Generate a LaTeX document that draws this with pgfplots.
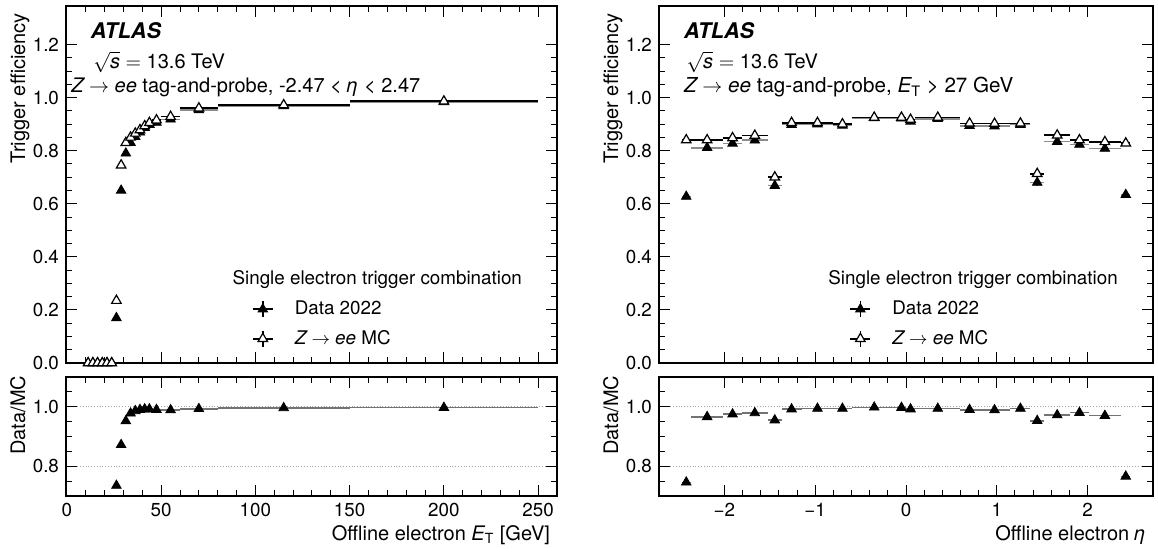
\documentclass[border=0pt]{standalone}
\usepackage{fontspec}
\setmainfont{TeX Gyre Heros}
\usepackage{pgfplots}
\pgfplotsset{compat=1.18}
\usepackage{pgfplotstable}

\pgfplotstableread{
x     xe    data   ye     mc
11.25 1.25  0.000  0.002  0.000
13.75 1.25  0.000  0.002  0.000
16.25 1.25  0.000  0.002  0.000
18.75 1.25  0.000  0.002  0.000
21.25 1.25  0.000  0.002  0.000
23.75 1.25  0.000  0.002  0.000
26.25 1.25  0.170  0.004  0.235
28.75 1.25  0.650  0.004  0.745
31.25 1.25  0.790  0.003  0.830
33.75 1.25  0.830  0.003  0.850
36.25 1.25  0.852  0.003  0.865
38.75 1.25  0.869  0.003  0.878
41.25 1.25  0.886  0.003  0.893
43.75 1.25  0.898  0.003  0.905
47.5  2.5   0.906  0.003  0.915
55    5     0.918  0.003  0.928
70    10    0.953  0.003  0.960
115   35    0.968  0.003  0.972
200   50    0.983  0.003  0.986
}\etTop

\pgfplotstableread{
x     xe    r
26.25 1.25  0.735
28.75 1.25  0.872
31.25 1.25  0.952
33.75 1.25  0.978
36.25 1.25  0.986
38.75 1.25  0.990
41.25 1.25  0.992
43.75 1.25  0.992
47.5  2.5   0.990
55    5     0.989
70    10    0.993
115   35    0.996
200   50    0.997
}\etRatio

\pgfplotstableread{
x      xe     data   ye     mc
-2.42  0.05   0.627  0.005  0.840
-2.19  0.18   0.811  0.004  0.840
-1.91  0.10   0.827  0.004  0.848
-1.665 0.145  0.839  0.004  0.857
-1.445 0.075  0.668  0.012  0.700
-1.26  0.11   0.898  0.003  0.905
-0.975 0.175  0.900  0.003  0.905
-0.7   0.10   0.895  0.003  0.900
-0.35  0.25   0.923  0.003  0.925
-0.05  0.05   0.922  0.003  0.925
0.05   0.05   0.910  0.003  0.917
0.35   0.25   0.920  0.003  0.925
0.7    0.10   0.894  0.003  0.903
0.975  0.175  0.892  0.003  0.902
1.26   0.11   0.898  0.003  0.903
1.445  0.075  0.680  0.012  0.713
1.665  0.145  0.834  0.004  0.858
1.91   0.10   0.823  0.004  0.840
2.19   0.18   0.808  0.004  0.833
2.42   0.05   0.634  0.005  0.828
}\etaTop

\pgfplotstableread{
x      xe     r
-2.42  0.05   0.746
-2.19  0.18   0.966
-1.91  0.10   0.975
-1.665 0.145  0.979
-1.445 0.075  0.955
-1.26  0.11   0.992
-0.975 0.175  0.994
-0.7   0.10   0.994
-0.35  0.25   0.998
-0.05  0.05   0.997
0.05   0.05   0.992
0.35   0.25   0.994
0.7    0.10   0.990
0.975  0.175  0.989
1.26   0.11   0.994
1.445  0.075  0.953
1.665  0.145  0.972
1.91   0.10   0.980
2.19   0.18   0.970
2.42   0.05   0.766
}\etaRatio

\newcommand{\lfont}{\fontsize{9.4}{11}\selectfont}
\newcommand{\afont}{\fontsize{10}{12}\selectfont}
\newcommand{\tfont}{\fontsize{10}{12}\selectfont}

\pgfplotsset{
  atlas/.style={
    scale only axis,
    axis line style={line width=0.6pt},
    every tick/.style={line width=0.5pt, black},
    major tick length=5.5pt,
    minor tick length=3pt,
    tick align=inside,
    tick pos=both,
    tick label style={font=\lfont},
    label style={font=\afont},
    every axis y label/.style={at={(axis description cs:-0.0835,1)}, rotate=90, anchor=base east, font=\afont},
    every axis x label/.style={at={(axis description cs:1,-0.37)}, anchor=base east, font=\afont},
  },
  legimg/.style={
    legend image code/.code={
      \path[draw=none, fill=none] (0pt,-4pt) rectangle (21pt,4pt);
      \draw[line width=0.8pt, black, fill=none] (0pt,0pt) -- (10pt,0pt) (5pt,-4pt) -- (5pt,4pt);
      \draw[mark repeat=2, mark phase=2, ##1] plot coordinates {(0pt,0pt) (5pt,0pt) (10pt,0pt)};
    },
  },
  datastyle/.style={only marks, mark=triangle*, mark size=2.75pt, black,
    mark options={fill=black, line width=0.4pt}, legimg,
    error bars/.cd, x dir=both, x explicit, y dir=both, y explicit,
    error bar style={line width=0.8pt, black!45}, error mark=none},
  mcstyle/.style={only marks, mark=triangle*, mark size=2.75pt, black,
    mark options={fill=white, line width=0.6pt}, legimg,
    error bars/.cd, x dir=both, x explicit,
    error bar style={line width=0.8pt, black}, error mark=none},
  ratiostyle/.style={only marks, mark=triangle*, mark size=2.75pt, black,
    mark options={fill=black, line width=0.4pt},
    error bars/.cd, x dir=both, x explicit,
    error bar style={line width=0.8pt, black!55}, error mark=none},
  legstyle/.style={legend style={at={(axis description cs:#1,0.1765)}, anchor=north west,
    draw=none, fill=none, inner sep=0pt, row sep=6pt, font=\lfont,
    nodes={inner sep=0pt}}, legend cell align=left},
}

\begin{document}
\begin{tikzpicture}[font=\lfont]
\useasboundingbox (0,0) rectangle (579pt,-274.5pt);

% ---------------- left top ----------------
\begin{axis}[atlas, name=lt, at={(33pt,-3pt)}, anchor=north west,
  width=245.5pt, height=178.5pt,
  xmin=-0.5, xmax=260, ymin=0, ymax=1.345,
  xtick={0,50,100,150,200,250}, xticklabels={},
  minor x tick num=4,
  ytick={0,0.2,0.4,0.6,0.8,1.0,1.2}, yticklabels={0.0,0.2,0.4,0.6,0.8,1.0,1.2},
  minor y tick num=3,
  ylabel={Trigger efficiency},
  legstyle=0.378]
\addplot[datastyle] table[x=x, y=data, x error=xe, y error=ye] {\etTop};
\addlegendentry{Data 2022}
\addplot[mcstyle] table[x=x, y=mc, x error=xe] {\etTop};
\addlegendentry{{\itshape Z} $\rightarrow$ {\itshape ee} MC}
\node[anchor=west, inner sep=0pt, font=\fontsize{10.8}{12}\selectfont\bfseries\itshape] at (axis description cs:0.050,0.931) {ATLAS};
\node[anchor=west, inner sep=0pt, font=\tfont] at (axis description cs:0.055,0.843) {$\sqrt{\mbox{\itshape s}} = \mbox{13.6 TeV}$};
\node[anchor=west, inner sep=0pt, font=\tfont] at (axis description cs:0.010,0.772) {{\itshape Z} $\rightarrow$ {\itshape ee} tag-and-probe, -2.47 < {\itshape η} < 2.47};
\node[anchor=east] at (axis description cs:0.943,0.2325) {Single electron trigger combination};
\end{axis}

% ---------------- left ratio ----------------
\begin{axis}[atlas, name=lr, at={(33pt,-188.5pt)}, anchor=north west,
  width=245.5pt, height=59.5pt,
  xmin=-0.5, xmax=260, ymin=0.7, ymax=1.1,
  xtick={0,50,100,150,200,250}, xticklabels={0,50,100,150,200,250},
  minor x tick num=4,
  ytick={0.8,1.0}, yticklabels={0.8,1.0},
  minor ytick={0.7,0.75,0.85,0.9,0.95,1.05,1.1},
  ymajorgrids, grid style={densely dotted, black!35, line width=0.5pt},
  every axis y label/.style={at={(axis description cs:-0.0835,1.07)}, rotate=90, anchor=base east, font=\afont},
  ylabel={Data/MC},
  xlabel={Offline electron {\itshape E}\textsubscript{T} [GeV]}]
\addplot[ratiostyle] table[x=x, y=r, x error=xe] {\etRatio};
\end{axis}

% ---------------- right top ----------------
\begin{axis}[atlas, name=rt, at={(329.5pt,-3pt)}, anchor=north west,
  width=247pt, height=178.5pt,
  xmin=-2.72, xmax=2.72, ymin=0, ymax=1.345,
  xtick={-2,-1,0,1,2}, xticklabels={},
  minor x tick num=4,
  ytick={0,0.2,0.4,0.6,0.8,1.0,1.2}, yticklabels={0.0,0.2,0.4,0.6,0.8,1.0,1.2},
  minor y tick num=3,
  every axis y label/.style={at={(axis description cs:-0.083,1)}, rotate=90, anchor=base east, font=\afont},
  ylabel={Trigger efficiency},
  legstyle=0.385]
\addplot[datastyle] table[x=x, y=data, x error=xe, y error=ye] {\etaTop};
\addlegendentry{Data 2022}
\addplot[mcstyle] table[x=x, y=mc, x error=xe] {\etaTop};
\addlegendentry{{\itshape Z} $\rightarrow$ {\itshape ee} MC}
\node[anchor=west, inner sep=0pt, font=\fontsize{10.8}{12}\selectfont\bfseries\itshape] at (axis description cs:0.050,0.931) {ATLAS};
\node[anchor=west, inner sep=0pt, font=\tfont] at (axis description cs:0.055,0.843) {$\sqrt{\mbox{\itshape s}} = \mbox{13.6 TeV}$};
\node[anchor=west, inner sep=0pt, font=\fontsize{10.3}{12}\selectfont] at (axis description cs:0.050,0.772) {{\itshape Z} $\rightarrow$ {\itshape ee} tag-and-probe, {\itshape E}\textsubscript{T} > 27 GeV};
\node[anchor=east] at (axis description cs:0.943,0.2325) {Single electron trigger combination};
\end{axis}

% ---------------- right ratio ----------------
\begin{axis}[atlas, name=rr, at={(329.5pt,-188.5pt)}, anchor=north west,
  width=247pt, height=59.5pt,
  xmin=-2.72, xmax=2.72, ymin=0.7, ymax=1.1,
  xtick={-2,-1,0,1,2}, xticklabels={−2,−1,0,1,2},
  minor x tick num=4,
  ytick={0.8,1.0}, yticklabels={0.8,1.0},
  minor ytick={0.7,0.75,0.85,0.9,0.95,1.05,1.1},
  ymajorgrids, grid style={densely dotted, black!35, line width=0.5pt},
  every axis y label/.style={at={(axis description cs:-0.083,1.07)}, rotate=90, anchor=base east, font=\afont},
  ylabel={Data/MC},
  xlabel={Offline electron {\itshape η}}]
\addplot[ratiostyle] table[x=x, y=r, x error=xe] {\etaRatio};
\end{axis}
\end{tikzpicture}
\end{document}
